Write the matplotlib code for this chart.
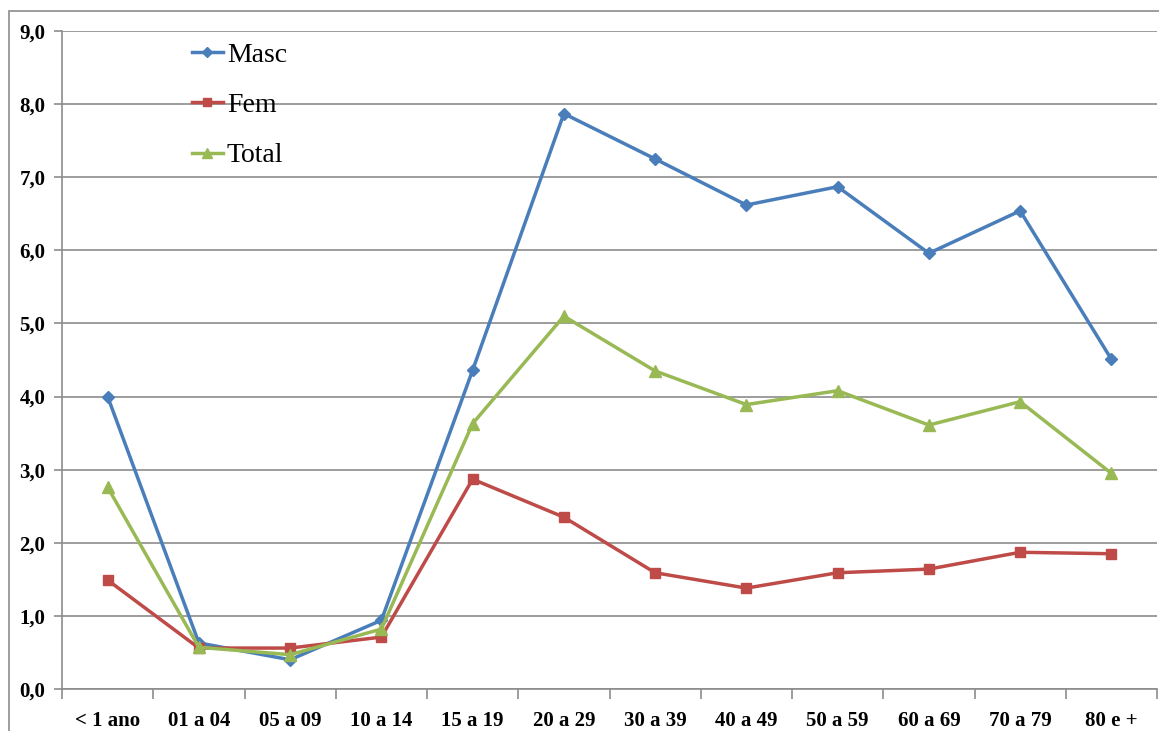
import matplotlib
matplotlib.use("Agg")
import matplotlib.pyplot as plt
from matplotlib.patches import Rectangle
from matplotlib.ticker import FuncFormatter, FixedLocator
import numpy as np

categories = ["< 1 ano", "01 a 04", "05 a 09", "10 a 14", "15 a 19", "20 a 29",
              "30 a 39", "40 a 49", "50 a 59", "60 a 69", "70 a 79", "80 e +"]
masc = [4.00, 0.63, 0.40, 0.94, 4.36, 7.87, 7.25, 6.62, 6.87, 5.96, 6.54, 4.51]
fem = [1.49, 0.56, 0.56, 0.71, 2.87, 2.35, 1.59, 1.38, 1.59, 1.64, 1.87, 1.85]
total = [2.76, 0.57, 0.47, 0.82, 3.63, 5.10, 4.35, 3.89, 4.08, 3.61, 3.93, 2.95]

plt.rcParams['font.family'] = ['Liberation Serif', 'DejaVu Serif']

W, H = 1159, 731
fig = plt.figure(figsize=(W / 100, H / 100), dpi=100)
ax = fig.add_axes([62 / W, 1 - 689 / H, (1157 - 62) / W, (689 - 31) / H])

# outer chart-area border
fig.patches.append(Rectangle((9 / W, -0.1), 1.2, 1 - 11 / H + 0.1,
                             transform=fig.transFigure, fill=False,
                             edgecolor="#8c8c8c", linewidth=1.2, zorder=0))

x = np.arange(len(categories))
grid_c = "#8c8c8c"

ax.plot(x, masc, color="#4A7EBB", lw=2.5, marker="D", ms=6, label="Masc", zorder=3)
ax.plot(x, fem, color="#BE4B48", lw=2.5, marker="s", ms=7, label="Fem", zorder=3)
ax.plot(x, total, color="#98B954", lw=2.5, marker="^", ms=8, label="Total", zorder=4)

ax.set_xlim(-0.5, len(categories) - 0.5)
ax.set_ylim(0, 9)
ax.set_yticks(np.arange(0, 10, 1))
ax.yaxis.set_major_formatter(FuncFormatter(lambda v, p: f"{v:.1f}".replace(".", ",")))
ax.yaxis.grid(True, color=grid_c, lw=1.2)
ax.set_axisbelow(True)

ax.set_xticks(x)
ax.set_xticklabels(categories)
ax.xaxis.set_minor_locator(FixedLocator(np.arange(-0.5, len(categories), 1)))
ax.tick_params(axis="x", which="major", length=0, pad=16, labelsize=15)
ax.tick_params(axis="x", which="minor", length=7, color=grid_c, width=1.2)
ax.tick_params(axis="y", which="major", length=6, color=grid_c, width=1.2, pad=6, labelsize=15)
for lbl in ax.get_xticklabels() + ax.get_yticklabels():
    lbl.set_fontweight("bold")

for s in ["top", "right"]:
    ax.spines[s].set_visible(False)
for s in ["left", "bottom"]:
    ax.spines[s].set_color(grid_c)
    ax.spines[s].set_linewidth(1.2)

leg = ax.legend(loc="upper left", bbox_to_anchor=(119 / (1157 - 62), 1.0),
                frameon=False, fontsize=20, handlelength=1.1, handletextpad=0.15,
                labelspacing=0.9, borderaxespad=0, markerscale=0.85)

fig.savefig("out.png", dpi=100)
